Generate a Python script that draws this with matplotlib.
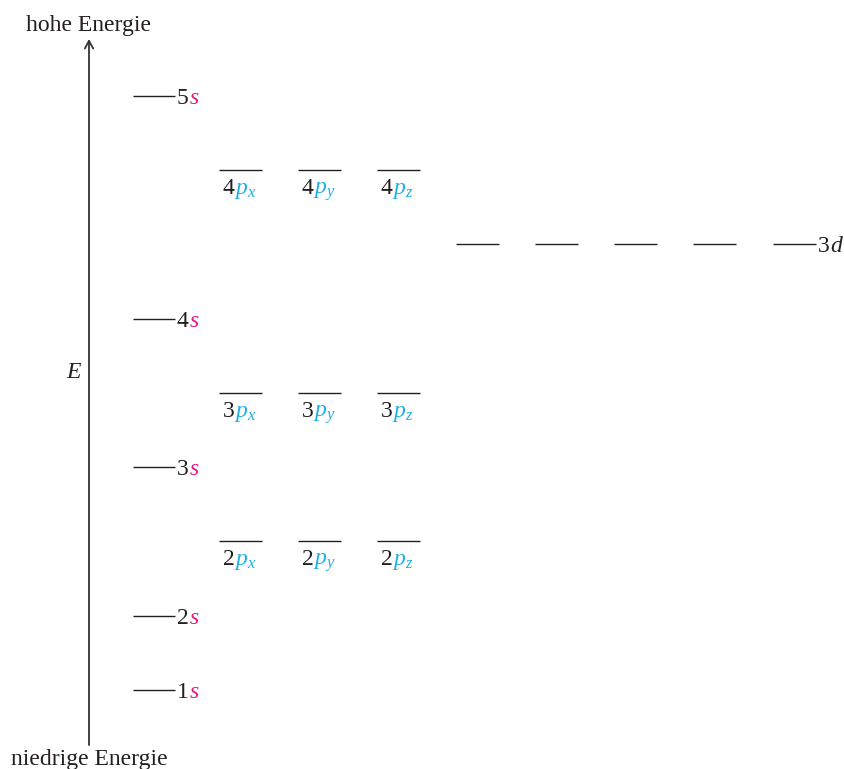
import matplotlib
matplotlib.use("Agg")
import matplotlib.pyplot as plt

plt.rcParams['font.family'] = ['Liberation Serif', 'DejaVu Serif']
plt.rcParams['mathtext.fontset'] = 'custom'
plt.rcParams['mathtext.rm'] = 'Liberation Serif'
plt.rcParams['mathtext.it'] = 'Liberation Serif:italic'

# energy levels (arbitrary units, higher = more energy)
s_names = ['1', '2', '3', '4', '5']
s_energy = [79, 153, 302, 450, 673]

p_names = ['2', '3', '4']
p_energy = [228, 376, 599]
p_subs = ['x', 'y', 'z']

d_name = '3'
d_energy = 525

s_x = (133, 175)
p_x = [(219, 262), (298, 341), (377, 420)]
d_x = [(456, 499), (535, 578), (614, 657), (693, 736), (773, 816)]

INK = '#231f20'
PINK = '#e6197e'
CYAN = '#1cb0e4'
FS = 17

fig = plt.figure(figsize=(8.45, 7.69), dpi=100)
ax = fig.add_axes([0, 0, 1, 1])
ax.set_xlim(0, 845)
ax.set_ylim(0, 769)
ax.axis('off')

# energy axis
ax.annotate('', xy=(89, 730), xytext=(89, 24),
            arrowprops=dict(arrowstyle='->,head_length=0.55,head_width=0.3',
                            lw=1.3, color='#333333', shrinkA=0, shrinkB=0))
ax.text(89, 743, 'hohe Energie', ha='center', va='center', fontsize=FS, color=INK)
ax.text(89, 9, 'niedrige Energie', ha='center', va='center', fontsize=FS, color=INK)
ax.text(73, 396, 'E', style='italic', ha='center', va='center', fontsize=FS, color=INK)

# s orbitals
ax.hlines(s_energy, s_x[0], s_x[1], color=INK, lw=1)
for n, e in zip(s_names, s_energy):
    t = ax.text(s_x[1] + 2, e - 8, n, ha='left', va='baseline', fontsize=FS, color=INK)
    ax.annotate(r'$s$', xy=(1, e - 8), xycoords=(t, 'data'), ha='left', va='baseline',
                fontsize=FS, color=PINK)

# p orbitals
for n, e in zip(p_names, p_energy):
    for (x0, x1), sub in zip(p_x, p_subs):
        ax.hlines(e, x0, x1, color=INK, lw=1)
        cx = (x0 + x1) / 2
        t = ax.text(cx - 6, e - 24, n, ha='right', va='baseline', fontsize=FS, color=INK)
        ax.annotate(r'$p_%s$' % sub, xy=(1, e - 24), xycoords=(t, 'data'),
                    ha='left', va='baseline', fontsize=FS, color=CYAN)

# d orbitals
for x0, x1 in d_x:
    ax.hlines(d_energy, x0, x1, color=INK, lw=1)
t = ax.text(d_x[-1][1] + 2, d_energy - 8, d_name, ha='left', va='baseline', fontsize=FS, color=INK)
ax.annotate(r'$d$', xy=(1, d_energy - 8), xycoords=(t, 'data'), ha='left', va='baseline',
            fontsize=FS, color=INK)

fig.savefig('out.png', dpi=100, facecolor='white')
